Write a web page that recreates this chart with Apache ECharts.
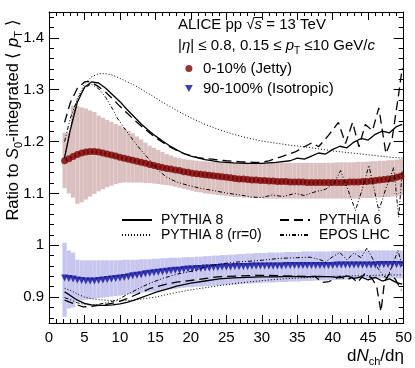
<!DOCTYPE html>
<html>
<head>
<meta charset="utf-8">
<script src="https://cdn.jsdelivr.net/npm/echarts@6/dist/echarts.min.js"></script>
<style>
  html, body { margin: 0; padding: 0; background: #fff; }
  #chart { width: 415px; height: 368px; }
</style>
</head>
<body>
<div id="chart"></div>
<script>
// bin centres (dNch/deta) of the measured points
const xs = [
  2.2, 2.8, 3.4, 4.0, 4.6, 5.2, 5.8, 6.4, 7.0, 7.6,
  8.2, 8.8, 9.4, 10.0, 10.6, 11.2, 11.8, 12.4, 13.0, 13.6,
  14.2, 14.8, 15.4, 16.0, 16.6, 17.2, 17.8, 18.4, 19.0, 19.6,
  20.2, 20.8, 21.4, 22.0, 22.6, 23.2, 23.8, 24.4, 25.0, 25.6,
  26.2, 26.8, 27.4, 28.0, 28.6, 29.2, 29.8, 30.4, 31.0, 31.6,
  32.2, 32.8, 33.4, 34.0, 34.6, 35.2, 35.8, 36.4, 37.0, 37.6,
  38.2, 38.8, 39.4, 40.0, 40.6, 41.2, 41.8, 42.4, 43.0, 43.6,
  44.2, 44.8, 45.4, 46.0, 46.6, 47.2, 47.8, 48.4, 49.0, 49.6
];

// 0-10% (Jetty)
const jettyY = [
  1.163, 1.167, 1.171, 1.175, 1.178, 1.180, 1.181, 1.181, 1.180, 1.178,
  1.176, 1.174, 1.172, 1.170, 1.168, 1.166, 1.164, 1.162, 1.160, 1.158,
  1.156, 1.154, 1.152, 1.150, 1.148, 1.147, 1.145, 1.144, 1.142, 1.141,
  1.139, 1.138, 1.137, 1.136, 1.135, 1.134, 1.133, 1.132, 1.131, 1.130,
  1.129, 1.128, 1.128, 1.127, 1.126, 1.126, 1.125, 1.125, 1.124, 1.124,
  1.123, 1.123, 1.123, 1.122, 1.122, 1.122, 1.122, 1.121, 1.121, 1.121,
  1.121, 1.121, 1.121, 1.121, 1.121, 1.121, 1.121, 1.122, 1.122, 1.122,
  1.123, 1.123, 1.124, 1.125, 1.126, 1.127, 1.128, 1.129, 1.131, 1.133
];
const jettyHi = [
  1.217, 1.217, 1.269, 1.269, 1.266, 1.264, 1.260, 1.257, 1.250, 1.246,
  1.242, 1.238, 1.234, 1.231, 1.226, 1.221, 1.216, 1.210, 1.204, 1.198,
  1.192, 1.188, 1.184, 1.180, 1.176, 1.173, 1.170, 1.168, 1.166, 1.165,
  1.164, 1.163, 1.162, 1.162, 1.161, 1.161, 1.161, 1.160, 1.160, 1.160,
  1.160, 1.160, 1.160, 1.159, 1.159, 1.159, 1.159, 1.159, 1.159, 1.159,
  1.159, 1.159, 1.159, 1.159, 1.159, 1.159, 1.159, 1.159, 1.159, 1.159,
  1.159, 1.159, 1.159, 1.159, 1.160, 1.160, 1.160, 1.160, 1.160, 1.161,
  1.161, 1.161, 1.162, 1.162, 1.163, 1.163, 1.164, 1.164, 1.165, 1.166
];
const jettyLo = [
  1.110, 1.100, 1.092, 1.080, 1.083, 1.088, 1.094, 1.099, 1.104, 1.108,
  1.112, 1.115, 1.118, 1.120, 1.121, 1.121, 1.121, 1.121, 1.121, 1.120,
  1.120, 1.119, 1.118, 1.117, 1.116, 1.115, 1.113, 1.111, 1.109, 1.107,
  1.105, 1.103, 1.102, 1.100, 1.099, 1.098, 1.097, 1.096, 1.095, 1.094,
  1.093, 1.093, 1.092, 1.092, 1.091, 1.091, 1.091, 1.090, 1.090, 1.090,
  1.090, 1.090, 1.090, 1.090, 1.090, 1.090, 1.090, 1.090, 1.090, 1.090,
  1.090, 1.090, 1.090, 1.090, 1.090, 1.090, 1.090, 1.090, 1.090, 1.090,
  1.091, 1.091, 1.091, 1.092, 1.092, 1.093, 1.093, 1.094, 1.095, 1.096
];

// 90-100% (Isotropic)
const isoY = [
  0.937, 0.936, 0.935, 0.933, 0.932, 0.931, 0.931, 0.931, 0.932, 0.933,
  0.934, 0.935, 0.936, 0.937, 0.938, 0.939, 0.941, 0.942, 0.943, 0.945,
  0.946, 0.947, 0.948, 0.949, 0.950, 0.951, 0.952, 0.952, 0.953, 0.954,
  0.954, 0.955, 0.955, 0.956, 0.956, 0.957, 0.957, 0.958, 0.958, 0.958,
  0.959, 0.959, 0.959, 0.959, 0.960, 0.960, 0.960, 0.960, 0.960, 0.960,
  0.960, 0.960, 0.961, 0.961, 0.961, 0.961, 0.961, 0.961, 0.961, 0.961,
  0.961, 0.961, 0.961, 0.961, 0.962, 0.962, 0.962, 0.962, 0.962, 0.962,
  0.962, 0.962, 0.962, 0.962, 0.963, 0.963, 0.963, 0.963, 0.963, 0.963
];
const isoHi = [
  1.005, 0.990, 0.986, 0.972, 0.971, 0.971, 0.971, 0.971, 0.971, 0.971,
  0.971, 0.971, 0.971, 0.971, 0.972, 0.972, 0.972, 0.972, 0.973, 0.973,
  0.973, 0.974, 0.974, 0.975, 0.975, 0.976, 0.976, 0.976, 0.977, 0.977,
  0.977, 0.978, 0.978, 0.979, 0.979, 0.980, 0.980, 0.981, 0.981, 0.982,
  0.982, 0.983, 0.983, 0.984, 0.984, 0.985, 0.985, 0.985, 0.986, 0.986,
  0.986, 0.986, 0.987, 0.987, 0.987, 0.987, 0.988, 0.988, 0.988, 0.988,
  0.988, 0.988, 0.988, 0.989, 0.989, 0.989, 0.989, 0.989, 0.989, 0.990,
  0.990, 0.990, 0.990, 0.990, 0.990, 0.990, 0.990, 0.990, 0.990, 0.990
];
const isoLo = [
  0.862, 0.878, 0.880, 0.893, 0.894, 0.895, 0.896, 0.897, 0.898, 0.899,
  0.900, 0.901, 0.902, 0.903, 0.904, 0.905, 0.906, 0.907, 0.908, 0.909,
  0.910, 0.911, 0.912, 0.913, 0.914, 0.915, 0.916, 0.917, 0.918, 0.919,
  0.919, 0.920, 0.920, 0.921, 0.921, 0.922, 0.922, 0.923, 0.923, 0.924,
  0.924, 0.925, 0.925, 0.926, 0.926, 0.927, 0.927, 0.928, 0.928, 0.928,
  0.929, 0.929, 0.929, 0.930, 0.930, 0.930, 0.931, 0.931, 0.931, 0.932,
  0.932, 0.932, 0.932, 0.933, 0.933, 0.933, 0.934, 0.934, 0.934, 0.934,
  0.935, 0.935, 0.935, 0.935, 0.936, 0.936, 0.936, 0.936, 0.936, 0.936
];

// MC curves, upper (jetty) branch
const p8UpX = [2.2, 3, 4, 5, 6, 7, 8, 9, 10, 11, 12, 13, 14, 15, 16, 17, 18, 19, 20, 22, 24, 26, 28, 30, 32, 34, 35, 36, 37, 38, 39, 40, 41, 42, 43, 44, 45, 46, 47, 48, 49, 49.8];
const p8UpY = [1.169, 1.222, 1.276, 1.305, 1.315, 1.313, 1.303, 1.290, 1.277, 1.262, 1.248, 1.234, 1.222, 1.211, 1.201, 1.192, 1.184, 1.177, 1.172, 1.165, 1.161, 1.159, 1.158, 1.158, 1.160, 1.163, 1.168, 1.166, 1.172, 1.178, 1.176, 1.185, 1.191, 1.188, 1.199, 1.206, 1.203, 1.214, 1.220, 1.217, 1.229, 1.233];

const p8rrUpX = [2.2, 3, 4, 5, 6, 7, 8, 9, 10, 12, 14, 16, 18, 20, 22, 24, 26, 28, 30, 32, 34, 36, 38, 40, 42, 44, 46, 48, 49.8];
const p8rrUpY = [1.168, 1.225, 1.283, 1.311, 1.325, 1.331, 1.331, 1.328, 1.322, 1.309, 1.293, 1.276, 1.260, 1.246, 1.233, 1.223, 1.214, 1.207, 1.201, 1.197, 1.193, 1.190, 1.186, 1.182, 1.179, 1.176, 1.173, 1.170, 1.168];

const p6UpX = [2.2, 3, 4, 5, 5.5, 6, 7, 8, 9, 10, 11, 12, 13, 14, 15, 16, 17, 18, 19, 20, 21, 23, 25, 27, 29, 30, 31, 33, 34.7, 36, 37.1, 38, 39.4, 40.8, 41.8, 42.8, 43.7, 44.6, 45.6, 46.5, 47.5, 48.4, 49.3, 49.8];
const p6UpY = [1.237, 1.275, 1.303, 1.315, 1.316, 1.314, 1.306, 1.295, 1.282, 1.268, 1.255, 1.242, 1.230, 1.219, 1.208, 1.199, 1.190, 1.183, 1.177, 1.173, 1.169, 1.166, 1.163, 1.161, 1.160, 1.160, 1.163, 1.172, 1.180, 1.190, 1.198, 1.190, 1.212, 1.237, 1.196, 1.237, 1.190, 1.233, 1.221, 1.265, 1.177, 1.208, 1.292, 1.342];

const eposUpX = [2.2, 3, 4, 5, 5.9, 7, 8, 9, 9.6, 10.5, 11.9, 13, 14.3, 15.3, 16.6, 18, 19.5, 21.3, 23, 25.3, 27, 28.5, 30, 31.5, 33, 34.7, 36, 37.5, 39, 40.2, 41.1, 42.2, 43.2, 44.2, 45.1, 45.8, 46.5, 47.5, 48.6, 49.3, 49.8];
const eposUpY = [1.200, 1.245, 1.282, 1.303, 1.311, 1.302, 1.285, 1.262, 1.246, 1.228, 1.202, 1.183, 1.163, 1.146, 1.131, 1.122, 1.116, 1.110, 1.106, 1.100, 1.097, 1.093, 1.092, 1.097, 1.094, 1.100, 1.096, 1.103, 1.108, 1.120, 1.144, 1.105, 1.067, 1.110, 1.154, 1.110, 1.067, 1.110, 1.150, 1.054, 1.144];

// MC curves, lower (isotropic) branch
const p8LoX = [2.2, 3, 4, 5, 6, 7, 8, 9, 10, 11, 12, 13, 14, 15, 16, 17, 18, 19, 20, 22, 24, 26, 28, 30, 32, 34, 36, 38, 40, 41, 42, 43, 44, 45, 46, 47, 48, 49, 49.8];
const p8LoY = [0.910, 0.903, 0.894, 0.888, 0.885, 0.884, 0.884, 0.885, 0.887, 0.890, 0.894, 0.899, 0.904, 0.909, 0.913, 0.917, 0.921, 0.924, 0.927, 0.931, 0.935, 0.937, 0.938, 0.939, 0.939, 0.940, 0.939, 0.940, 0.939, 0.937, 0.941, 0.936, 0.939, 0.933, 0.938, 0.931, 0.935, 0.928, 0.925];

const p8rrLoX = [2.2, 3, 4, 5, 6, 7, 8, 9, 10, 11, 12, 13, 14, 15, 16, 18, 20, 22, 25, 28, 31, 34, 37, 40, 43, 46, 49.8];
const p8rrLoY = [0.917, 0.913, 0.906, 0.900, 0.897, 0.895, 0.894, 0.893, 0.893, 0.893, 0.894, 0.896, 0.898, 0.900, 0.903, 0.909, 0.914, 0.918, 0.924, 0.929, 0.933, 0.936, 0.938, 0.940, 0.941, 0.942, 0.943];

const p6LoX = [2.2, 3, 4, 4.8, 6, 7, 8, 9.6, 11, 12, 13, 14.3, 16, 18, 20.5, 23.7, 27, 30, 33, 36, 37.5, 38.5, 39.5, 40.3, 41, 42, 42.7, 43.5, 44.5, 45.5, 46.2, 46.8, 47.3, 48, 48.8, 49.7];
const p6LoY = [0.894, 0.890, 0.885, 0.881, 0.882, 0.884, 0.886, 0.890, 0.897, 0.903, 0.909, 0.917, 0.923, 0.929, 0.933, 0.939, 0.941, 0.942, 0.941, 0.940, 0.940, 0.928, 0.930, 0.935, 0.940, 0.933, 0.938, 0.928, 0.945, 0.937, 0.920, 0.872, 0.930, 0.945, 0.935, 0.913];

const eposLoX = [2.2, 3, 4, 5, 6, 7, 8, 9, 10, 11, 12, 13, 14.3, 16, 18, 20.5, 22, 23.7, 26, 28, 30, 32, 33, 35, 36.8, 38, 39, 40, 41, 42, 43, 44, 44.8, 45.6, 46.4, 47.2, 47.7, 48.5, 49.2, 49.8];
const eposLoY = [0.899, 0.895, 0.889, 0.886, 0.885, 0.886, 0.889, 0.892, 0.897, 0.905, 0.912, 0.919, 0.927, 0.936, 0.944, 0.951, 0.958, 0.963, 0.967, 0.969, 0.971, 0.974, 0.975, 0.976, 0.977, 0.973, 0.968, 0.978, 0.986, 0.972, 0.985, 0.976, 0.994, 0.975, 0.955, 0.940, 0.937, 0.965, 0.990, 0.960];

const FONT = "'Liberation Sans', Arial, Helvetica, sans-serif";
const binHalf = 0.3;
const LINE1_Y = 25;
const LINE2_Y = 46;

const zip = (a, b) => a.map((v, i) => [v, b[i]]);

// measure text so the overline of sqrt(s) sits on the "s"
const mctx = document.createElement("canvas").getContext("2d");
mctx.font = "15px " + FONT;
const sLeft = 178 + mctx.measureText("ALICE pp √").width;
mctx.font = "italic 15px " + FONT;
const sRight = sLeft + mctx.measureText("s").width;

const chart = echarts.init(document.getElementById("chart"), null, { renderer: "canvas" });

function bandSeries(name, lo, hi, color) {
  return {
    name,
    type: "custom",
    z: 1,
    silent: true,
    clip: true,
    data: xs.map((x, i) => [x, lo[i], hi[i]]),
    encode: { x: 0, y: [1, 2] },
    renderItem: (params, api) => {
      const x = api.value(0);
      const p1 = api.coord([x - binHalf, api.value(2)]);
      const p2 = api.coord([x + binHalf, api.value(1)]);
      return {
        type: "rect",
        shape: { x: p1[0], y: p1[1], width: p2[0] - p1[0], height: p2[1] - p1[1] },
        style: { fill: color },
      };
    },
  };
}

function mcLine(name, xArr, yArr, lineType, width) {
  return {
    name,
    type: "line",
    z: 4,
    data: zip(xArr, yArr),
    symbol: "none",
    smooth: false,
    silent: true,
    color: "#000",
    lineStyle: { color: "#000", width: width || 1.2, type: lineType },
  };
}

function axisCommon(major, minor) {
  return {
    axisLine: { show: true, onZero: false, lineStyle: { color: "#000", width: 1 } },
    axisTick: { show: true, inside: true, length: major, lineStyle: { color: "#000", width: 1 } },
    minorTick: { show: true, splitNumber: 5, length: minor, lineStyle: { color: "#000", width: 1 } },
    splitLine: { show: false },
    minorSplitLine: { show: false },
  };
}

const rich = {
  n: { fontFamily: FONT, fontSize: 15, color: "#000" },
  i: { fontFamily: FONT, fontSize: 15, fontStyle: "italic", color: "#000" },
  sub: { fontFamily: FONT, fontSize: 10, color: "#000", padding: [10, 0, 0, 0] },
};
const richX = {
  n: { fontFamily: FONT, fontSize: 17, color: "#000" },
  i: { fontFamily: FONT, fontSize: 17, fontStyle: "italic", color: "#000" },
  sub: { fontFamily: FONT, fontSize: 11, color: "#000", padding: [11, 0, 0, 0] },
};
const richY = {
  n: { fontFamily: FONT, fontSize: 16.5, color: "#000" },
  i: { fontFamily: FONT, fontSize: 16.5, fontStyle: "italic", color: "#000" },
  sub: { fontFamily: FONT, fontSize: 11, color: "#000", padding: [11, 0, 0, 0] },
};

const legendMarkerIcons = {
  "0-10% (Jetty)": "circle",
  "90-100% (Isotropic)": "path://M0,0L10,0L5,9Z",
};

const option = {
  animation: false,
  backgroundColor: "#fff",
  grid: { left: 49, right: 11, top: 12, bottom: 45, containLabel: false },
  xAxis: [
    Object.assign(axisCommon(8, 4), {
      type: "value", min: 0, max: 50, interval: 5, position: "bottom",
      axisLabel: { show: true, color: "#000", fontFamily: FONT, fontSize: 15, margin: 7 },
    }),
    Object.assign(axisCommon(8, 4), {
      type: "value", min: 0, max: 50, interval: 5, position: "top",
      axisLabel: { show: false },
    }),
  ],
  yAxis: [
    Object.assign(axisCommon(10, 5), {
      type: "value", min: 0.85, max: 1.45, splitNumber: 6, position: "left",
      axisLabel: {
        show: true, color: "#000", fontFamily: FONT, fontSize: 15, margin: 5,
        formatter: (v) => {
          const r = Math.round(v * 10) / 10;
          if (Math.abs(r - v) > 1e-6) return "";
          return String(r);
        },
      },
    }),
    Object.assign(axisCommon(10, 5), {
      type: "value", min: 0.85, max: 1.45, splitNumber: 6, position: "right",
      axisLabel: { show: false },
    }),
  ],
  legend: [
    {
      data: Object.keys(legendMarkerIcons).map((name) => ({ name, icon: legendMarkerIcons[name] })),
      orient: "vertical",
      left: 185, top: 61, padding: 0,
      itemWidth: 16, itemHeight: 7, itemGap: 5,
      selectedMode: false,
      textStyle: { fontFamily: FONT, fontSize: 15, color: "#000", lineHeight: 15, padding: [0, 0, 0, 1] },
    },
    {
      data: ["PYTHIA 8", "PYTHIA 8 (rr=0)"],
      orient: "vertical",
      left: 121, top: 213, padding: 0,
      itemWidth: 30, itemHeight: 10, itemGap: 1,
      selectedMode: false,
      itemStyle: { opacity: 0 },
      textStyle: { fontFamily: FONT, fontSize: 14, color: "#000", lineHeight: 14, padding: [0, 0, 0, 4] },
    },
    {
      data: ["PYTHIA 6", "EPOS LHC"],
      orient: "vertical",
      left: 279, top: 213, padding: 0,
      itemWidth: 30, itemHeight: 10, itemGap: 1,
      selectedMode: false,
      itemStyle: { opacity: 0 },
      textStyle: { fontFamily: FONT, fontSize: 14, color: "#000", lineHeight: 14, padding: [0, 0, 0, 4] },
    },
  ],
  graphic: [
    {
      type: "text", x: 178, y: LINE1_Y,
      style: {
        text: "{n|ALICE pp }{n|√}{i|s}{n| = 13 TeV}",
        rich, verticalAlign: "middle", align: "left",
      },
    },
    {
      type: "line",
      shape: { x1: sLeft - 0.5, y1: LINE1_Y - 7.5, x2: sRight + 0.5, y2: LINE1_Y - 7.5 },
      style: { stroke: "#000", lineWidth: 1 },
    },
    {
      type: "text", x: 178, y: LINE2_Y,
      style: {
        text: "{n||}{i|η}{n|| ≤ 0.8, 0.15 ≤ }{i|p}{sub|T}{n| ≤10 GeV/}{i|c}",
        rich, verticalAlign: "middle", align: "left",
      },
    },
    {
      type: "text", x: 404, y: 356,
      style: {
        text: "{n|d}{i|N}{sub|ch}{n|/dη}",
        rich: richX, verticalAlign: "middle", align: "right",
      },
    },
    {
      type: "text", x: 13, y: 120, rotation: Math.PI / 2,
      style: {
        text: "{n|Ratio to }{i|S}{sub|0}{n|-integrated ⟨ }{i|p}{sub|T}{n| ⟩}",
        rich: richY, verticalAlign: "middle", align: "center",
      },
    },
  ],
  series: [
    bandSeries("jettyBand", jettyLo, jettyHi, "#dbc0c0"),
    bandSeries("isoBand", isoLo, isoHi, "#c6c6ee"),
    {
      name: "0-10% (Jetty)",
      type: "scatter",
      z: 3,
      data: zip(xs, jettyY),
      symbol: "circle",
      symbolSize: 7,
      itemStyle: { color: "#7c0000" },
      silent: true,
    },
    {
      name: "90-100% (Isotropic)",
      type: "scatter",
      z: 3,
      data: zip(xs, isoY),
      symbol: "triangle",
      symbolRotate: 180,
      symbolSize: 7,
      itemStyle: { color: "#10109c" },
      silent: true,
    },
    mcLine("PYTHIA 8", p8UpX, p8UpY, "solid", 1.3),
    mcLine("PYTHIA 8", p8LoX, p8LoY, "solid", 1.3),
    mcLine("PYTHIA 8 (rr=0)", p8rrUpX, p8rrUpY, [1, 2], 1),
    mcLine("PYTHIA 8 (rr=0)", p8rrLoX, p8rrLoY, [1, 2], 1),
    mcLine("PYTHIA 6", p6UpX, p6UpY, [9, 5], 1.3),
    mcLine("PYTHIA 6", p6LoX, p6LoY, [9, 5], 1.3),
    mcLine("EPOS LHC", eposUpX, eposUpY, [4, 2, 1, 2, 1, 2], 1),
    mcLine("EPOS LHC", eposLoX, eposLoY, [4, 2, 1, 2, 1, 2], 1),
  ],
};

chart.setOption(option);
</script>
</body>
</html>
